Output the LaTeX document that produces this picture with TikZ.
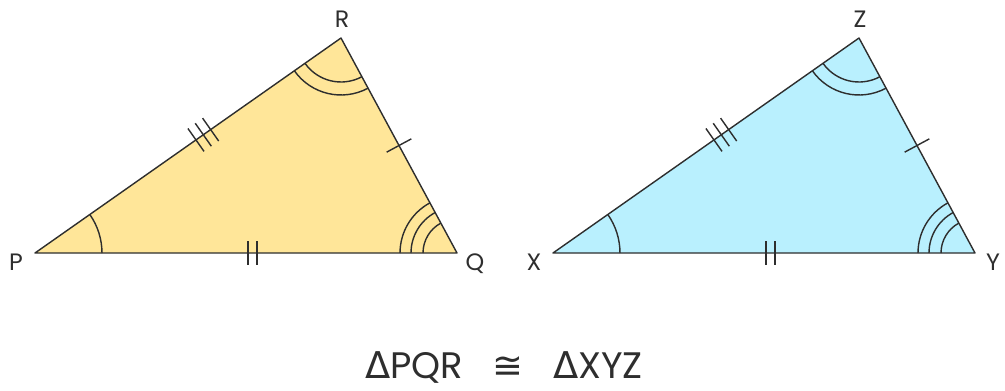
\documentclass[tikz,border=0pt]{standalone}
\usepackage{fontspec}
\setmainfont{Poppins}
\newfontfamily\symfont{DejaVu Sans}
\usepackage{tikz}
\usetikzlibrary{calc,angles}
\definecolor{softyellow}{HTML}{FFE699}
\definecolor{softcyan}{HTML}{B9F0FE}
\definecolor{inkgray}{HTML}{2E2E2E}

\begin{document}
\begin{tikzpicture}[x=0.02cm,y=-0.02cm,line join=round,
  every node/.style={font=\fontsize{13.5}{16}\selectfont,text=inkgray,inner sep=0pt},
  side/.style={draw=inkgray,line width=0.8pt},
  arcline/.style={draw=inkgray,line width=0.8pt},
  tickline/.style={draw=inkgray,line width=0.8pt}]
  \useasboundingbox (0,0) rectangle (1005,390);
  \foreach \a/\b/\c/\dx/\fillcol in {P/Q/R/0/softyellow,X/Y/Z/518/softcyan}{
    \coordinate (\a) at (35+\dx,253);
    \coordinate (\b) at (457+\dx,253);
    \coordinate (\c) at (341+\dx,38);
    \fill[\fillcol] (\a) -- (\b) -- (\c) -- cycle;
    % angle marks
    \pic[arcline,angle radius=1.34cm] {angle=\b--\a--\c};
    \foreach \r in {0.88,1.14}
      \pic[arcline,angle radius=\r cm] {angle=\a--\c--\b};
    \foreach \r in {0.68,0.92,1.14}
      \pic[arcline,angle radius=\r cm] {angle=\c--\b--\a};
    % equal side ticks
    \foreach \t in {0.526,0.55,0.574}{
      \coordinate (m) at ($(\a)!\t!(\c)$);
      \draw[tickline] ($(m)!0.28cm!90:(\c)$) -- ($(m)!0.28cm!-90:(\c)$);
    }
    \coordinate (m) at ($(\c)!0.5!(\b)$);
    \draw[tickline] ($(m)!0.28cm!90:(\b)$) -- ($(m)!0.28cm!-90:(\b)$);
    \foreach \t in {0.505,0.526}{
      \coordinate (m) at ($(\a)!\t!(\b)$);
      \draw[tickline] ($(m)!0.24cm!90:(\b)$) -- ($(m)!0.24cm!-90:(\b)$);
    }
    \draw[side] (\a) -- (\b) -- (\c) -- cycle;
    \node[anchor=base] (lab\a) at ($(\a)+(-19,17)$) {\a};
    \node[anchor=base] (lab\b) at ($(\b)+(18,17)$) {\b};
    \node[anchor=base] (lab\c) at ($(\c)+(1,-11)$) {\c};
  }
  \node[anchor=base,font=\fontsize{21}{25}\selectfont] (congr) at (504,378)
    {{\symfont Δ}PQR\hspace{0.8em}{\symfont ≅}\hspace{0.8em}{\symfont Δ}XYZ};
\end{tikzpicture}
\end{document}
